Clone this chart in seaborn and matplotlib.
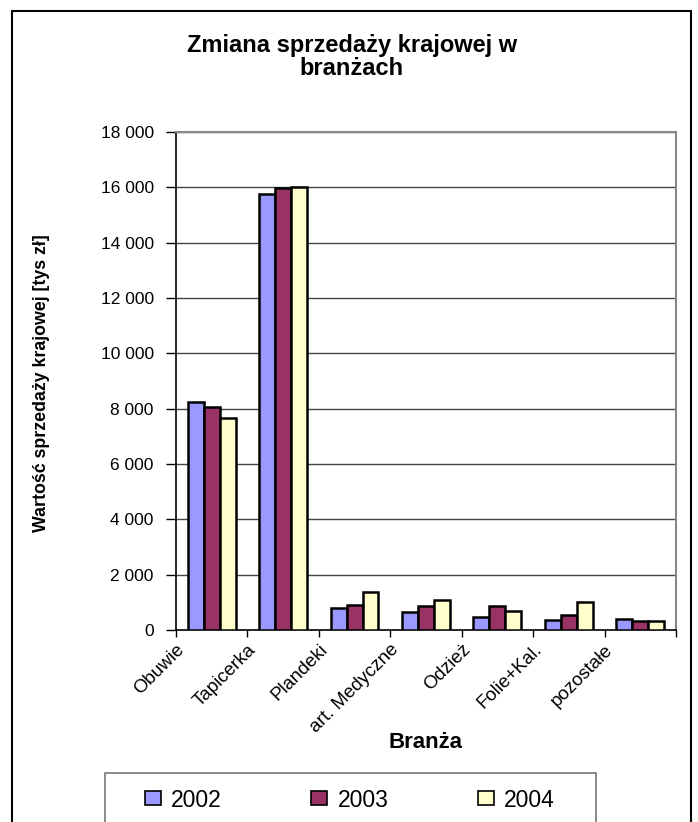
import matplotlib
matplotlib.use("Agg")
import matplotlib.pyplot as plt
import seaborn as sns
import pandas as pd
from matplotlib.patches import Rectangle
from matplotlib.ticker import FuncFormatter

categories = ["Obuwie", "Tapicerka", "Plandeki", "art. Medyczne", "Odzież", "Folie+Kal.", "pozostałe"]
years = ["2002", "2003", "2004"]
values_2002 = [8250, 15750, 800, 660, 460, 370, 415]
values_2003 = [8050, 15970, 910, 850, 850, 560, 320]
values_2004 = [7650, 16030, 1390, 1100, 700, 1000, 320]
yticks = list(range(0, 18001, 2000))
title = "Zmiana sprzedaży krajowej w\nbranżach"
xlabel = "Branża"
ylabel = "Wartość sprzedaży krajowej [tys zł]"

df = pd.DataFrame({
    "cat": categories * 3,
    "year": [y for y in years for _ in categories],
    "val": values_2002 + values_2003 + values_2004,
})

sns.set_theme(style="white")
plt.rcParams["font.family"] = ["Liberation Sans", "DejaVu Sans"]
plt.rcParams["text.color"] = "black"
plt.rcParams["xtick.color"] = "black"
plt.rcParams["ytick.color"] = "black"
plt.rcParams["axes.labelcolor"] = "black"

W, H = 698, 822
fig = plt.figure(figsize=(W / 100, H / 100), dpi=100)
fig.patch.set_facecolor("white")

def fx(px):
    return px / W

def fy(py):
    return 1 - py / H

ax = fig.add_axes([fx(176), fy(630), fx(676) - fx(176), fy(132) - fy(630)])

palette = {"2002": "#9999FF", "2003": "#993366", "2004": "#FFFFCC"}
sns.barplot(data=df, x="cat", y="val", hue="year", order=categories, hue_order=years,
            palette=palette, width=0.67, edgecolor="black", linewidth=1.8,
            saturation=1, ax=ax, legend=False, zorder=3)

ax.set_xlim(-0.5, len(categories) - 0.5)
ax.set_ylim(0, 18000)
ax.set_yticks(yticks)
ax.yaxis.set_major_formatter(FuncFormatter(lambda v, p: f"{int(v):,}".replace(",", " ")))
for v in yticks[1:]:
    ax.axhline(v, color="#444444", lw=1.0, zorder=1)

# category labels anchored at the left boundary of each group (Excel-like)
tick_pos = [i - 0.5 for i in range(len(categories) + 1)]
ax.set_xticks(tick_pos)
ax.set_xticklabels(categories + [""], rotation=45, ha="right", rotation_mode="anchor",
                   fontsize=13.5)
ax.tick_params(axis="x", direction="out", length=5, width=1, color="black", pad=3, bottom=True)
ax.tick_params(axis="y", direction="out", length=7, width=1, color="black", pad=9,
               labelsize=12.5, left=True)

for s in ["left", "bottom"]:
    ax.spines[s].set_color("black")
    ax.spines[s].set_linewidth(1.2)
for s in ["top", "right"]:
    ax.spines[s].set_visible(True)
    ax.spines[s].set_color("#888888")
    ax.spines[s].set_linewidth(1.5)

ax.set_xlabel("")
ax.set_ylabel("")
fig.text(fx(426), fy(742), xlabel, ha="center", va="center", fontsize=16, fontweight="bold")
fig.text(fx(42), fy(383), ylabel, ha="center", va="center", rotation=90, fontsize=12.8,
         fontweight="bold")
fig.text(fx(352), fy(57), title, ha="center", va="center", fontsize=17, fontweight="bold",
         linespacing=0.95)

# outer chart border
fig.patches.append(Rectangle((fx(12), fy(840)), fx(691) - fx(12), fy(11) - fy(840),
                             transform=fig.transFigure, fill=False, edgecolor="black",
                             lw=1.5, zorder=0))
# legend box
fig.patches.append(Rectangle((fx(105), fy(840)), fx(596) - fx(105), fy(773) - fy(840),
                             transform=fig.transFigure, fill=False, edgecolor="#777777",
                             lw=1.2, zorder=0))
handles = [Rectangle((0, 0), 1, 1, facecolor=palette[y], edgecolor="black", lw=1.2) for y in years]
fig.legend(handles, years, loc="center", bbox_to_anchor=(fx(350), fy(800)), ncol=3,
           frameon=False, fontsize=16.5, handlelength=0.7, handleheight=0.55,
           handletextpad=0.45, columnspacing=3.9)

fig.savefig("out.png", dpi=100)
